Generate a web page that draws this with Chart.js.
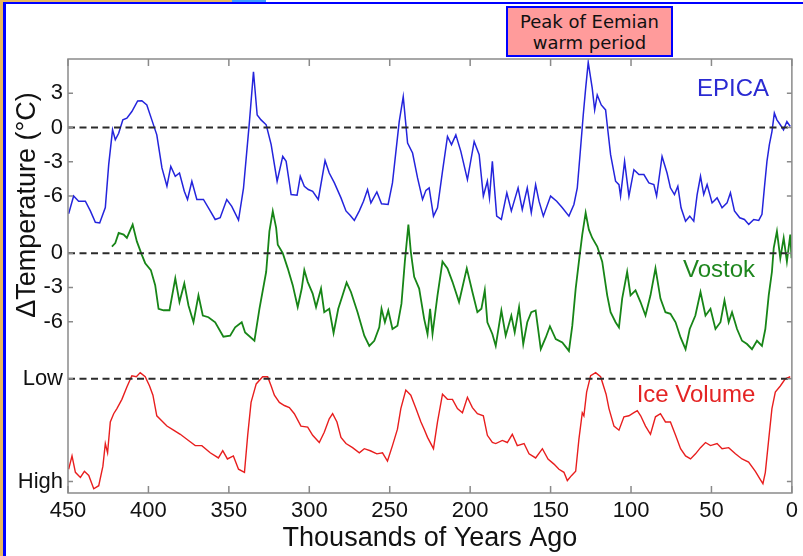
<!DOCTYPE html>
<html>
<head>
<meta charset="utf-8">
<script src="https://cdn.jsdelivr.net/npm/chart.js@4/dist/chart.umd.min.js"></script>
<style>
  html, body { margin: 0; padding: 0; background: #fff; }
  #wrap { position: relative; width: 803px; height: 556px; overflow: hidden; background: #fff; }
  #chart { position: absolute; left: 0; top: 0; }
  .strip { position: absolute; }
  #note {
    position: absolute; left: 506px; top: 6px; width: 167px; height: 51px;
    box-sizing: border-box; border: 2px solid #0000ff; background: #ff9b9b;
    font-family: "DejaVu Sans", sans-serif; font-size: 18px; line-height: 21px;
    color: #111; text-align: center; display: flex; align-items: center; justify-content: center;
  }
</style>
</head>
<body>
<div id="wrap">
  <div class="strip" style="left:0;top:0;width:3px;height:556px;background:#e8b75e"></div>
  <div class="strip" style="left:0;top:0;width:232px;height:2px;background:#e8b75e"></div>
  <div class="strip" style="left:232px;top:0;width:34px;height:2px;background:#3d9cff"></div>
  <div class="strip" style="left:3px;top:2px;width:3px;height:554px;background:#0000ff"></div>
  <div class="strip" style="left:3px;top:2px;width:800px;height:2px;background:#0000ff"></div>
  <canvas id="chart" width="803" height="556"></canvas>
  <div id="note">Peak of Eemian<br>warm period</div>
</div>
<script>
// thousands of years ago / delta T (deg C)
const epicaAge = [449.6, 446.5, 443.4, 439.2, 436.1, 433, 430.3, 426.8, 424.7, 422.3, 420.6, 418.5, 415.9, 413.4,
  410.3, 406.7, 404.1, 401, 397.9, 394.8, 391.6, 388.5, 386.1, 383.3, 380.7, 377.7, 375.7, 373, 369.9, 365.8,
  361.6, 358.5, 355.4, 351.3, 348.2, 344, 340.9, 337.2, 334.7, 332.4, 330, 326.8, 323.7, 320, 316.5, 314.4,
  311.3, 307.6, 305.6, 303.1, 300.6, 297.9, 294.4, 290.2, 287.6, 284.4, 280.3, 277.2, 274.5, 272, 268.9,
  266.3, 263.8, 261.7, 258, 255.1, 251, 248.3, 244.1, 241.6, 238.9, 235.8, 232.7, 229.6, 227.5, 225.5, 222.8,
  220.3, 217.2, 214.1, 211.6, 208.9, 205.8, 201.7, 197.5, 194.4, 191.8, 189.3, 188, 186.2, 183.5, 180.6,
  177.2, 174.4, 170.2, 167.6, 164.5, 162, 159.3, 157.2, 154.5, 150, 146.2, 142.7, 138.6, 135.5, 133.4, 131.7,
  129.7, 128.2, 126.6, 124.1, 122.6, 121, 118.5, 115.8, 114.8, 112.7, 109.6, 107.5, 106.5, 104, 101.3, 98.2,
  95.1, 92, 88.9, 85.8, 84.1, 80.7, 77.6, 75.5, 73, 70.9, 68.9, 66.1, 63.5, 61, 58.9, 56.8, 54.8, 52.7, 49.6,
  46.5, 43.4, 40.3, 38.2, 35.7, 32.4, 29.5, 26.8, 23.7, 20.6, 18.6, 17.1, 15.5, 14, 12.4, 10.9, 9.3, 7.2,
  5.2, 3.1, 1.0];
const epicaTemp = [-7.55, -6.0, -6.45, -6.45, -7.3, -8.3, -8.35, -7.0, -3.25, -0.2, -1.07, -0.5, 0.67, 0.82,
  1.4, 2.33, 2.35, 1.98, 0.67, -0.64, -3.54, -5.14, -3.4, -4.27, -3.98, -5.58, -6.3, -4.7, -6.3, -6.3,
  -7.3, -8.05, -7.9, -6.3, -6.9, -8.1, -5.3, 0.52, 4.88, 1.1, 0.67, 0.24, -1.5, -4.7, -2.53, -2.96,
  -5.87, -5.93, -4.27, -5.14, -5.43, -5.58, -6.3, -2.9, -3.98, -4.85, -6.16, -7.3, -7.7, -8.13, -7.3,
  -6.45, -5.43, -6.6, -5.64, -6.68, -6.74, -4.85, 0.52, 2.7, -1.36, -2.23, -4.41, -6.3, -5.5, -5.28, -7.76,
  -7.03, -3.84, -0.78, -1.5, -0.64, -2.09, -4.56, -1.22, -2.38, -6.0, -4.7, -6.16, -2.96, -7.76, -8.05,
  -5.72, -7.3, -5.28, -7.18, -5.28, -7.46, -5.0, -6.45, -7.76, -6.0, -6.45, -7.03, -7.76, -6.74, -5.28, -2.38,
  1.1, 3.43, 5.7, 3.43, 1.54, 2.85, 1.98, 1.54, 0.24, -2.38, -4.7, -5.0, -6.0, -2.96, -6.0, -3.69,
  -4.12, -4.12, -4.85, -5.0, -6.0, -2.53, -3.98, -5.28, -5.87, -5.14, -7.03, -8.2, -7.76, -8.2, -5.87, -4.27, -5.87, -5.0, -6.6,
  -6.16, -7.03, -6.6, -5.72, -7.3, -7.9, -8.05, -8.48, -8.05, -8.13, -7.6, -5.28, -2.96, -1.5, -0.35, 1.26, 0.67, 0.24,
  -0.2, 0.52, 0.09];

const vostokAge = [422.7, 420.6, 418.5, 415.4, 413.4, 409.8, 407.2, 404.1, 402, 398.5, 395.8, 393.7, 390.6, 386.9,
  383.3, 380.7, 377.7, 375.1, 372, 368.9, 366.2, 362.7, 358.5, 353.4, 349.2, 346.1, 342, 339.9, 334.1, 331,
  326.8, 324.8, 322.7, 320.6, 319.6, 316.5, 313.4, 310.3, 307.2, 304.7, 303.1, 301, 297.9, 295.8, 292.7,
  290.7, 287.6, 284.9, 282, 279.3, 276.8, 274.1, 270, 265.8, 262.7, 259.6, 256.5, 255.1, 253, 250.9, 248.3,
  245.2, 242.7, 240.6, 238.4, 236.9, 234.8, 231.7, 228.6, 226.5, 224.9, 223.4, 220.3, 217.2, 214.1, 211,
  206.9, 202.1, 198.6, 195.5, 193, 190.9, 189.3, 186.2, 184.1, 180.6, 177.9, 174.4, 172.3, 169.6, 167, 164.5,
  162, 159.3, 156.1, 153, 150.4, 146.8, 142.7, 138.6, 136.5, 134.4, 132.4, 130.3, 128.2, 126.2, 124.1, 121,
  117.9, 114.8, 112.7, 109.6, 107.5, 105.5, 102.4, 100.3, 97.2, 94.1, 91, 87.9, 84.8, 81.7, 78.6, 75.5, 72.3,
  69.2, 66.1, 63.5, 60, 56.8, 53.7, 50.6, 47.5, 44.4, 41.9, 39.3, 37.2, 34.1, 31, 27.9, 24.8, 21.7, 18.6,
  16.5, 14.4, 12.4, 11.3, 9.3, 7.2, 5.1, 3.1, 1, 0.2];
const vostokTemp = [0.58, 0.88, 1.77, 1.62, 1.33, 2.5, 1.03, -0.15, -0.88, -1.48, -2.8, -4.87, -5.0, -5.0,
  -2.2, -4.28, -2.65, -4.58, -6.05, -3.69, -5.46, -5.61, -6.05, -7.32, -7.23, -6.5, -6.05, -6.94, -7.67, -4.87,
  -1.63, 1.91, 3.68, 2.21, 0.73, 0, -1.33, -2.8, -4.72, -3.1, -1.48, -2.51, -3.54, -4.72, -3.1,
  -5.17, -4.87, -6.99, -4.87, -3.69, -2.57, -3.4, -5.17, -7.23, -8.12, -7.67, -6.5, -4.87, -6.05, -5.02, -6.64,
  -6.35, -4.42, -0.74, 2.5, 0.14, -2.07, -3.1, -5.75, -7.08, -4.87, -7.08, -3.69, -0.74, -1.33, -2.51,
  -4.28, -1.33, -3.4, -5.17, -4.87, -3.25, -6.05, -7.08, -8.12, -5.02, -7.23, -5.46, -6.94, -4.72, -7.96, -6.05,
  -5.17, -5.02, -8.41, -7.38, -6.4, -7.52, -7.82, -8.56, -6.35, -3.1, -0.74, 1.62, 3.54, 2.06, 1.33, 0.58,
  -0.74, -3.69, -5.17, -6.05, -6.5, -3.98, -1.63, -3.69, -3.25, -4.28, -5.46, -3.69, -1.33, -3.98, -5.17, -5.31, -6.05,
  -7.38, -8.41, -6.64, -5.46, -3.4, -5.46, -4.87, -6.64, -6.05, -4.13, -6.05, -5.17, -6.64, -7.67, -7.96, -8.41, -7.67, -8.12,
  -6.64, -3.69, -1.63, 0.44, 1.91, -0.44, 1.33, -0.74, 1.62, -0.44];

// relative ice volume: 0 = High, 1 = Low
const iceAge = [449.6, 447.5, 445.4, 442.3, 439.8, 437.1, 434, 430.9, 428.3, 426.8, 425.4, 423.7, 421.6, 419.6,
  416.5, 413.4, 410.3, 407.5, 405.1, 402, 399.3, 397.2, 394.8, 391.6, 388.5, 384.4, 380.2, 375.1, 370.9,
  366.8, 361.6, 356.5, 353.8, 350.9, 347.2, 344, 340.3, 338.3, 336.2, 333, 329, 325.9, 323.7, 321.7, 318.6,
  315.5, 312.4, 309.3, 305.2, 301, 297.9, 293.8, 290.7, 287.6, 285.5, 282.8, 280.3, 277.2, 273.1, 268.9,
  265.8, 262.1, 258, 254.5, 251.4, 248.3, 245.2, 243.1, 240, 236.9, 233.7, 230.6, 228.6, 226.5, 222.8, 220.3,
  217.2, 214.1, 211, 207.9, 204.8, 201.7, 198.6, 195.5, 191.8, 189.3, 186.2, 184.1, 180, 176.9, 173.8, 170.7,
  166.5, 163.4, 159.3, 155.1, 151.6, 147.9, 144.8, 141.7, 139.6, 136.9, 134.4, 132.4, 130.3, 129.3, 127.6,
  125.1, 122, 118.9, 115.5, 113.7, 110.6, 107.5, 104.4, 101.3, 98.2, 96.1, 94, 91, 87.9, 84.8, 81.7, 78.6,
  75.5, 72.3, 69.2, 66.1, 63, 59.9, 56.8, 53.7, 50.6, 46.5, 43.4, 39.3, 35.1, 31, 26.9, 22.7, 19.6, 18, 16.5,
  14.4, 12.4, 10.3, 7.2, 4.1, 1];
const iceLevel = [0.12, 0.25, 0.09, 0.04, 0.10, 0.06, -0.07, -0.04, 0.15, 0.37, 0.28, 0.58, 0.66, 0.71,
  0.80, 0.92, 1.03, 1.02, 1.06, 1.02, 0.93, 0.84, 0.64, 0.59, 0.54, 0.50, 0.46, 0.40, 0.35,
  0.35, 0.28, 0.23, 0.30, 0.22, 0.25, 0.12, 0.09, 0.45, 0.77, 0.95, 1.02, 1.02, 0.93, 0.84, 0.77,
  0.74, 0.72, 0.66, 0.54, 0.53, 0.45, 0.38, 0.48, 0.61, 0.66, 0.58, 0.43, 0.37, 0.33, 0.28,
  0.32, 0.30, 0.27, 0.28, 0.20, 0.35, 0.51, 0.71, 0.89, 0.84, 0.71, 0.58, 0.51, 0.43, 0.32, 0.58,
  0.85, 0.80, 0.80, 0.71, 0.67, 0.82, 0.72, 0.66, 0.64, 0.45, 0.38, 0.37, 0.40, 0.38, 0.46, 0.35,
  0.37, 0.27, 0.23, 0.32, 0.22, 0.17, 0.12, 0.09, 0.01, 0.06, 0.10, 0.41, 0.67, 0.64, 0.87,
  1.03, 1.06, 1.02, 0.85, 0.71, 0.54, 0.50, 0.63, 0.64, 0.67, 0.69, 0.64, 0.54, 0.46, 0.63, 0.66, 0.58,
  0.58, 0.45, 0.32, 0.25, 0.22, 0.27, 0.33, 0.38, 0.35, 0.37, 0.32, 0.33, 0.27, 0.22, 0.19, 0.10, 0.02, -0.02, 0.09,
  0.41, 0.71, 0.87, 0.93, 1.0, 1.02];

const epicaTicks = [3, 0, -3, -6];
const vostokTicks = [0, -3, -6];
const iceTickLabels = ["Low", "High"];
const iceTickLevels = [1, 0];
const xTicks = [450, 400, 350, 300, 250, 200, 150, 100, 50, 0];

// each band shares one y axis, shifted down the plot
const EPICA_ZERO = -6;
const VOSTOK_ZERO = -17;
const ICE_HIGH = -37;
const ICE_SPAN = 9;

const fontFace = "'Liberation Sans', Arial, sans-serif";

const yTicks = [];
epicaTicks.forEach(t => yTicks.push({ value: t + EPICA_ZERO, label: String(t) }));
vostokTicks.forEach(t => yTicks.push({ value: t + VOSTOK_ZERO, label: String(t) }));
iceTickLevels.forEach((l, i) => yTicks.push({ value: ICE_HIGH + l * ICE_SPAN, label: iceTickLabels[i] }));

function zeroLine(yv) {
  return {
    data: [{ x: 450, y: yv }, { x: 0, y: yv }],
    borderColor: "#2b2b2b",
    borderWidth: 2,
    borderDash: [7, 4.5],
    pointRadius: 0,
  };
}

const frame = {
  id: "frame",
  afterDatasetsDraw(chart) {
    const { ctx, chartArea: a, scales } = chart;
    const x = scales.x, y = scales.y;
    ctx.save();
    ctx.strokeStyle = "#8a8a8a";
    ctx.lineWidth = 1.5;
    ctx.strokeRect(a.left, a.top, a.right - a.left, a.bottom - a.top);
    ctx.beginPath();
    x.ticks.forEach(t => {
      const px = x.getPixelForValue(t.value);
      ctx.moveTo(px, a.top); ctx.lineTo(px, a.top + 7);
      ctx.moveTo(px, a.bottom); ctx.lineTo(px, a.bottom - 7);
    });
    y.ticks.forEach(t => {
      const py = y.getPixelForValue(t.value);
      ctx.moveTo(a.left, py); ctx.lineTo(a.left + 5, py);
      ctx.moveTo(a.right, py); ctx.lineTo(a.right - 5, py);
    });
    ctx.stroke();

    ctx.font = "24px " + fontFace;
    ctx.textAlign = "center";
    ctx.textBaseline = "middle";
    ctx.fillStyle = "#2a2ad2";
    ctx.fillText("EPICA", 733, 89);
    ctx.fillStyle = "#1e861e";
    ctx.fillText("Vostok", 719, 270);
    ctx.fillStyle = "#e42424";
    ctx.fillText("Ice Volume", 696, 395);

    ctx.translate(35, 205);
    ctx.rotate(-Math.PI / 2);
    ctx.font = "27px " + fontFace;
    ctx.fillStyle = "#111";
    ctx.textBaseline = "alphabetic";
    ctx.fillText("\u0394Temperature (\u00b0C)", 0, 0);
    ctx.restore();
  }
};

new Chart(document.getElementById("chart"), {
  type: "line",
  data: {
    datasets: [
      zeroLine(EPICA_ZERO),
      zeroLine(VOSTOK_ZERO),
      zeroLine(ICE_HIGH + ICE_SPAN),
      {
        label: "EPICA",
        data: epicaAge.map((a, i) => ({ x: a, y: epicaTemp[i] + EPICA_ZERO })),
        borderColor: "#2424dc",
        borderWidth: 1.5,
        pointRadius: 0,
      },
      {
        label: "Vostok",
        data: vostokAge.map((a, i) => ({ x: a, y: vostokTemp[i] + VOSTOK_ZERO })),
        borderColor: "#178517",
        borderWidth: 1.8,
        pointRadius: 0,
      },
      {
        label: "Ice Volume",
        data: iceAge.map((a, i) => ({ x: a, y: ICE_HIGH + iceLevel[i] * ICE_SPAN })),
        borderColor: "#e81e1e",
        borderWidth: 1.4,
        pointRadius: 0,
      },
    ],
  },
  options: {
    responsive: false,
    animation: false,
    events: [],
    layout: { padding: { top: 59, right: 10, left: 0, bottom: 0 } },
    plugins: { legend: { display: false }, tooltip: { enabled: false } },
    scales: {
      x: {
        type: "linear",
        reverse: true,
        min: 0,
        max: 450,
        afterFit: s => { s.height = 63; },
        afterBuildTicks: s => { s.ticks = xTicks.map(v => ({ value: v })); },
        grid: { display: false, drawTicks: false },
        border: { display: false },
        ticks: {
          autoSkip: false,
          maxRotation: 0,
          padding: 5,
          color: "#111",
          font: { family: fontFace, size: 22 },
        },
        title: {
          display: true,
          text: "Thousands of Years Ago",
          color: "#111",
          padding: { top: 0, bottom: 1 },
          font: { family: fontFace, size: 27, lineHeight: 1.2 },
        },
      },
      y: {
        type: "linear",
        min: -38,
        max: 0,
        afterFit: s => { s.width = 68; },
        afterBuildTicks: s => { s.ticks = yTicks.map(t => ({ value: t.value })); },
        grid: { display: false, drawTicks: false },
        border: { display: false },
        ticks: {
          autoSkip: false,
          padding: 5,
          color: "#111",
          font: { family: fontFace, size: 22 },
          callback: (v) => {
            const t = yTicks.find(k => k.value === v);
            return t ? t.label : "";
          },
        },
      },
    },
  },
  plugins: [frame],
});
</script>
</body>
</html>
